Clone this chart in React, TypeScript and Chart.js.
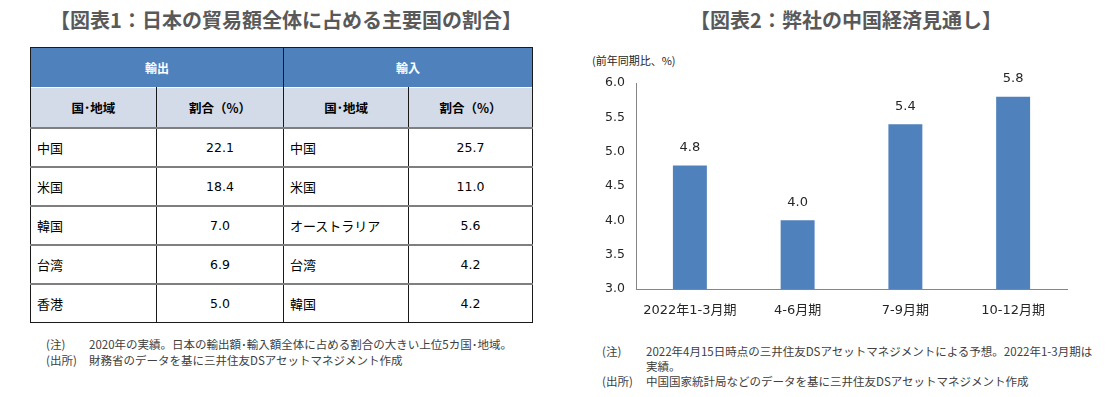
import React, { useEffect, useRef } from "react";
import { Chart, registerables } from "chart.js";

Chart.register(...registerables);

const exportCountries = ["中国", "米国", "韓国", "台湾", "香港"];
const exportShares = [22.1, 18.4, 7.0, 6.9, 5.0];
const importCountries = ["中国", "米国", "オーストラリア", "台湾", "韓国"];
const importShares = [25.7, 11.0, 5.6, 4.2, 4.2];

const quarters = ["2022年1-3月期", "4-6月期", "7-9月期", "10-12月期"];
const growth = [4.8, 4.0, 5.4, 5.8];
const yMin = 3.0;
const yMax = 6.0;
const yStep = 0.5;

const FONT = '"DejaVu Sans", "Noto Sans CJK JP", sans-serif';
const JP = '"Noto Sans CJK JP", sans-serif';
const BLUE = "#4F81BD";

const dataLabelPlugin = {
  id: "dataLabels",
  afterDatasetsDraw(chart: any) {
    const ctx = chart.ctx;
    ctx.save();
    ctx.font = `13px ${FONT}`;
    ctx.fillStyle = "#262626";
    ctx.textAlign = "center";
    ctx.textBaseline = "middle";
    chart.data.datasets.forEach((ds: any, i: number) => {
      const meta = chart.getDatasetMeta(i);
      meta.data.forEach((el: any, j: number) => {
        ctx.fillText(Number(ds.data[j]).toFixed(1), el.x, el.y - 18);
      });
    });
    ctx.restore();
  },
};

function BarChart() {
  const ref = useRef<HTMLCanvasElement>(null);
  useEffect(() => {
    if (!ref.current) return;
    const chart = new Chart(ref.current, {
      type: "bar",
      data: {
        labels: quarters,
        datasets: [
          {
            data: growth,
            backgroundColor: BLUE,
            borderWidth: 0,
            barPercentage: 0.315,
            categoryPercentage: 1,
          },
        ],
      },
      options: {
        animation: false,
        responsive: true,
        maintainAspectRatio: false,
        layout: { padding: { top: 23, right: 51, left: 0, bottom: 0 } },
        plugins: { legend: { display: false }, tooltip: { enabled: false } },
        scales: {
          x: {
            grid: { display: false, drawTicks: false },
            border: { display: true, color: "#868686", width: 1 },
            ticks: { color: "#262626", font: { size: 13, family: FONT }, padding: 14, maxRotation: 0 },
            afterFit: (s: any) => {
              s.height = 41;
            },
          },
          y: {
            min: yMin,
            max: yMax,
            grid: { display: false, drawTicks: false },
            border: { display: true, color: "#868686", width: 1 },
            ticks: {
              stepSize: yStep,
              color: "#262626",
              font: { size: 12.5, family: FONT },
              padding: 11,
              callback: (v: any) => Number(v).toFixed(1),
            },
            afterFit: (s: any) => {
              s.width = 66;
            },
          },
        },
      },
      plugins: [dataLabelPlugin],
    });
    return () => chart.destroy();
  }, []);
  return (
    <div style={{ position: "absolute", left: 570, top: 60, width: 548, height: 270 }}>
      <canvas ref={ref} />
    </div>
  );
}

const cellBase: React.CSSProperties = {
  borderLeft: "1px solid #1a1a1a",
  borderRight: "1px solid #1a1a1a",
  padding: 0,
  fontFamily: FONT,
  fontSize: 12.5,
  color: "#000",
};

export default function App() {
  const rows = exportCountries.map((c, i) => ({
    ec: c,
    ev: exportShares[i].toFixed(1),
    ic: importCountries[i],
    iv: importShares[i].toFixed(1),
  }));
  const colW = [126, 127, 125, 124];
  return (
    <div
      style={{
        position: "absolute",
        left: 0,
        top: 0,
        width: 1118,
        height: 397,
        background: "#fff",
        overflow: "hidden",
      }}
    >
      <div
        style={{
          position: "absolute",
          left: 6,
          top: 6,
          width: 560,
          textAlign: "center",
          fontFamily: JP,
          fontWeight: 700,
          fontSize: 20,
          color: "#595959",
          lineHeight: "28px",
        }}
      >
        【図表1：日本の貿易額全体に占める主要国の割合】
      </div>
      <table
        style={{
          position: "absolute",
          left: 30,
          top: 47,
          borderCollapse: "collapse",
          tableLayout: "fixed",
          width: 502,
          border: "1px solid #1a1a1a",
        }}
      >
        <colgroup>
          {colW.map((w, i) => (
            <col key={i} style={{ width: w }} />
          ))}
        </colgroup>
        <tbody>
          <tr style={{ height: 40, background: BLUE }}>
            <td
              colSpan={2}
              style={{ ...cellBase, color: "#fff", fontWeight: 700, textAlign: "center", fontSize: 12, fontFamily: JP }}
            >
              輸出
            </td>
            <td
              colSpan={2}
              style={{ ...cellBase, color: "#fff", fontWeight: 700, textAlign: "center", fontSize: 12, fontFamily: JP }}
            >
              輸入
            </td>
          </tr>
          <tr style={{ height: 40, background: "#D3DAE8" }}>
            {["国･地域", "割合（%）", "国･地域", "割合（%）"].map((t, i) => (
              <td
                key={i}
                style={{
                  ...cellBase,
                  fontWeight: 700,
                  textAlign: "center",
                  fontSize: 12.5,
                  fontFamily: JP,
                  borderTop: "1px solid #fff",
                }}
              >
                {t}
              </td>
            ))}
          </tr>
          {rows.map((r, i) => (
            <tr key={i} style={{ height: 39 }}>
              <td style={{ ...cellBase, borderTop: "2px solid #7f7f7f", paddingLeft: 6, fontFamily: JP, fontSize: 13 }}>
                {r.ec}
              </td>
              <td style={{ ...cellBase, borderTop: "2px solid #7f7f7f", textAlign: "center" }}>{r.ev}</td>
              <td style={{ ...cellBase, borderTop: "2px solid #7f7f7f", paddingLeft: 6, fontFamily: JP, fontSize: 13 }}>
                {r.ic}
              </td>
              <td style={{ ...cellBase, borderTop: "2px solid #7f7f7f", textAlign: "center" }}>{r.iv}</td>
            </tr>
          ))}
        </tbody>
      </table>
      <div
        style={{
          position: "absolute",
          left: 46,
          top: 337,
          fontFamily: JP,
          fontSize: 11.5,
          color: "#404040",
          lineHeight: "15.5px",
        }}
      >
        <div>
          <span style={{ display: "inline-block", width: 43 }}>(注)</span>
          2020年の実績。日本の輸出額･輸入額全体に占める割合の大きい上位5カ国･地域。
        </div>
        <div>
          <span style={{ display: "inline-block", width: 43 }}>(出所)</span>
          財務省のデータを基に三井住友DSアセットマネジメント作成
        </div>
      </div>

      <div
        style={{
          position: "absolute",
          left: 566,
          top: 6,
          width: 560,
          textAlign: "center",
          fontFamily: JP,
          fontWeight: 700,
          fontSize: 20,
          color: "#595959",
          lineHeight: "28px",
        }}
      >
        【図表2：弊社の中国経済見通し】
      </div>
      <div
        style={{
          position: "absolute",
          left: 592,
          top: 52,
          fontFamily: JP,
          fontSize: 11,
          color: "#262626",
          lineHeight: "16px",
        }}
      >
        (前年同期比、%)
      </div>
      <BarChart />
      <div
        style={{
          position: "absolute",
          left: 602,
          top: 344,
          fontFamily: JP,
          fontSize: 11.5,
          color: "#404040",
          lineHeight: "14.8px",
        }}
      >
        <div style={{ display: "flex" }}>
          <span style={{ display: "inline-block", width: 44, flexShrink: 0 }}>(注)</span>
          <span>
            2022年4月15日時点の三井住友DSアセットマネジメントによる予想。2022年1-3月期は
            <br />
            実績。
          </span>
        </div>
        <div style={{ display: "flex" }}>
          <span style={{ display: "inline-block", width: 44, flexShrink: 0 }}>(出所)</span>
          <span>中国国家統計局などのデータを基に三井住友DSアセットマネジメント作成</span>
        </div>
      </div>
    </div>
  );
}
